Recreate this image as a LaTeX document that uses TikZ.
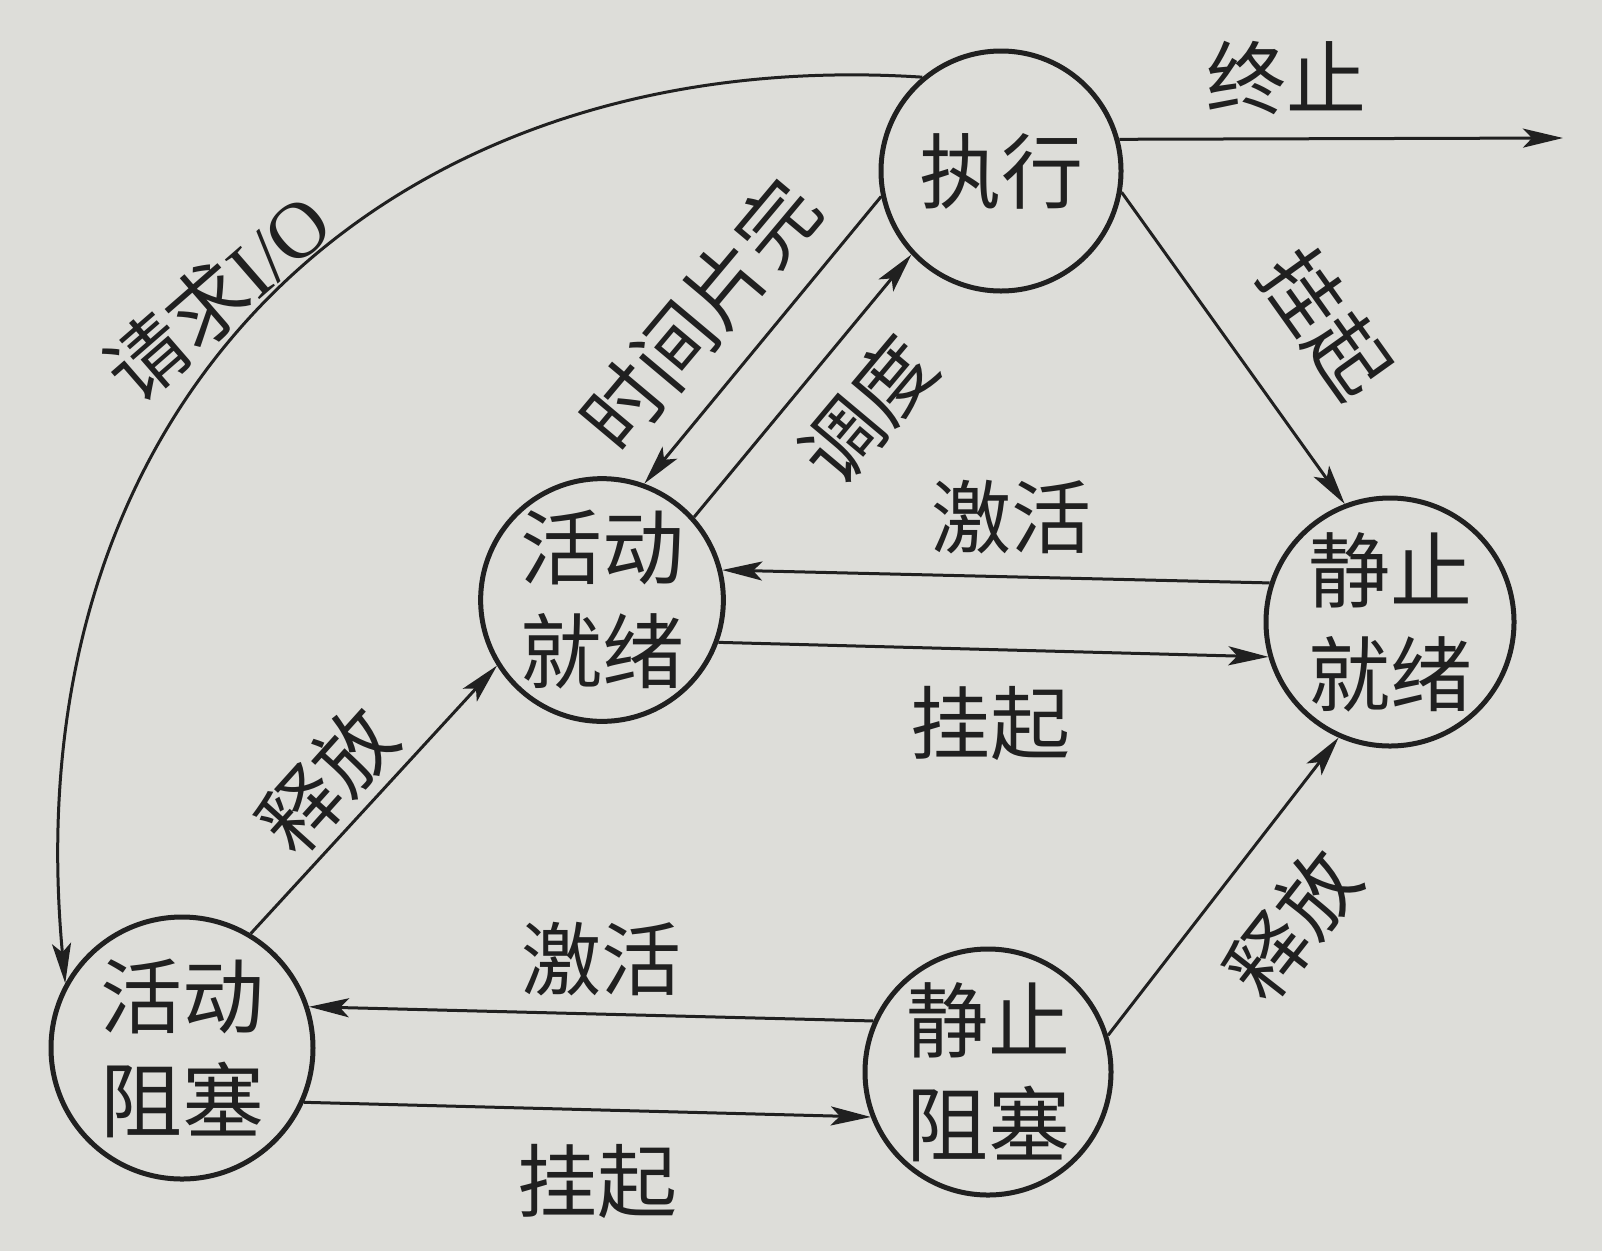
\documentclass[tikz,border=0pt]{standalone}
\usepackage{fontspec}
\setmainfont{Liberation Serif}
\newfontfamily\cjk{Noto Sans CJK SC}
\usetikzlibrary{arrows.meta}
\definecolor{paper}{RGB}{221,221,217}
\definecolor{ink}{RGB}{32,32,32}
\begin{document}
\begin{tikzpicture}[x=1pt,y=-1pt,
  state/.style={circle,draw=ink,line width=5pt,inner sep=0pt,align=center,
    font=\cjk\fontsize{82}{104}\selectfont,text=ink},
  lbl/.style={font=\cjk\fontsize{80}{96}\selectfont,text=ink,inner sep=0pt},
  edge/.style={draw=ink,line width=3pt,-{Stealth[length=40pt,width=19pt,inset=9pt]}}]
\fill[paper] (0,0) rectangle (1602,1251);
\useasboundingbox (0,0) rectangle (1602,1251);

\node[state,minimum size=240pt] (exec) at (1001,171) {执行};
\node[state,minimum size=240pt] (ar) at (602,600) {活动\\就绪};
\node[state,minimum size=248pt] (sr) at (1390,622) {静止\\就绪};
\node[state,minimum size=262pt] (ab) at (182,1048) {活动\\阻塞};
\node[state,minimum size=246pt] (sb) at (988,1072) {静止\\阻塞};
\coordinate (term) at (1563,138);

\draw[edge] (exec.15.7) -- (term);
\draw[edge] (exec.-168) -- (ar.70);
\draw[edge] (ar.42) -- (exec.-137);
\draw[edge] (exec.-10) -- (sr.111);
\draw[edge] (sr.162) -- (ar.14);
\draw[edge] (ar.-20) -- (sr.-164);
\draw[edge] (ab.59) -- (ar.-148);
\draw[edge] (sb.156) -- (ab.18);
\draw[edge] (ab.-24) -- (sb.-159);
\draw[edge] (sb.17) -- (sr.-114);
\draw[edge] (exec.130) .. controls (395,43) and (10,390) .. (ab.151);

\node[lbl] (lterm) at (1286,78) {终止};
\node[lbl,rotate=-54.5] (lsusp1) at (1326,323) {挂起};
\node[lbl,rotate=50] (lslice) at (700,314) {时间片完};
\node[lbl,rotate=50] (lsched) at (867,410) {调度};
\node[lbl] (lact1) at (1011,517) {激活};
\node[lbl] (lsusp2) at (990,723) {挂起};
\node[lbl,rotate=48] (lrel1) at (327,780) {释放};
\node[lbl] (lact2) at (601,959) {激活};
\node[lbl] (lsusp3) at (597,1181) {挂起};
\node[lbl,rotate=52] (lrel2) at (1293,925) {释放};
\node[lbl,rotate=41] (lio) at (217,296) {请求{\rmfamily I/O}};
\end{tikzpicture}
\end{document}
